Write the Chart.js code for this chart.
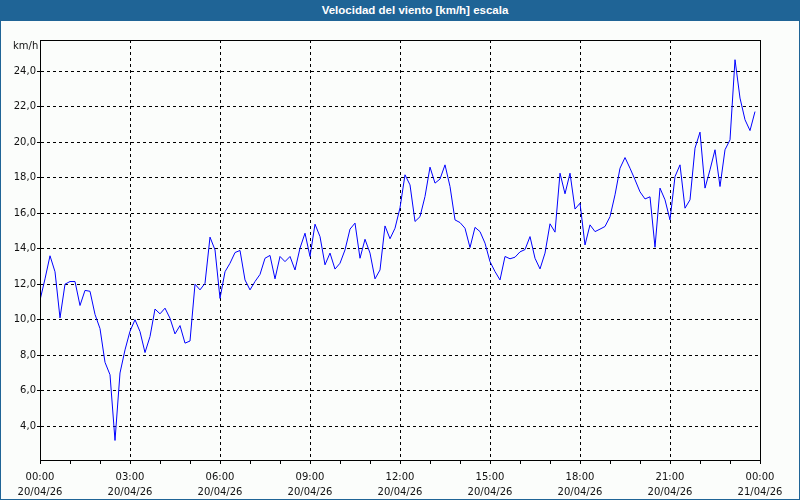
<!DOCTYPE html>
<html>
<head>
<meta charset="utf-8">
<script src="https://cdn.jsdelivr.net/npm/chart.js@4.4.1/dist/chart.umd.min.js"></script>
<style>
  html, body { margin: 0; padding: 0; background: #fbfdfb; }
  #wrap { width: 800px; height: 500px; box-sizing: border-box; border: 1px solid #1f6496; border-top: none; position: relative; background: #fbfdfb; }
  #title { height: 21px; margin: 0 -1px; background: #1f6496; color: #fff; font: bold 11.5px "Liberation Sans", Arial, sans-serif; line-height: 21px; text-align: center; padding-left: 30px; }
  #box { width: 798px; height: 478px; position: relative; }
</style>
</head>
<body>
<div id="wrap">
  <div id="title">Velocidad del viento [km/h] escala</div>
  <div id="box"><canvas id="chart"></canvas></div>
</div>
<script>
// velocidad del viento cada 10 minutos, 00:00 a 23:50
const speeds = [
  11.1, 12.3, 13.6, 12.7, 10.1, 12.0, 12.15, 12.15, 10.8, 11.65, 11.6, 10.3,
  9.5, 7.6, 6.9, 3.2, 7.0, 8.3, 9.35, 10.0, 9.33, 8.15, 9.05, 10.6,
  10.33, 10.65, 10.08, 9.2, 9.67, 8.68, 8.8, 12.0, 11.68, 12.05, 14.65, 13.93,
  11.2, 12.7, 13.18, 13.78, 13.9, 12.24, 11.68, 12.15, 12.55, 13.46, 13.62, 12.3,
  13.56, 13.27, 13.56, 12.8, 14.03, 14.87, 13.56, 15.38, 14.68, 13.09, 13.75, 12.85,
  13.18, 13.93, 15.1, 15.44, 13.46, 14.53, 13.75, 12.3, 12.8, 15.28, 14.56, 15.15,
  16.3, 18.16, 17.59, 15.53, 15.8, 16.94, 18.59, 17.69, 17.92, 18.72, 17.5, 15.62,
  15.47, 15.15, 14.06, 15.2, 14.96, 14.31, 13.27, 12.71, 12.24, 13.56, 13.43, 13.52,
  13.82, 13.95, 14.68, 13.46, 12.86, 13.75, 15.4, 14.93, 18.25, 17.09, 18.25, 16.23,
  16.56, 14.21, 15.34, 14.96, 15.1, 15.25, 15.8, 17.03, 18.53, 19.13, 18.53, 17.88,
  17.2, 16.8, 16.92, 14.08, 17.41, 16.75, 15.62, 18.06, 18.72, 16.28, 16.75, 19.66,
  20.56, 17.41, 18.44, 19.57, 17.5, 19.57, 20.13, 24.64, 22.48, 21.26, 20.65, 21.72
];
const stepMinutes = 10;
const xTickTimes = ["00:00", "03:00", "06:00", "09:00", "12:00", "15:00", "18:00", "21:00", "00:00"];
const xTickDates = ["20/04/26", "20/04/26", "20/04/26", "20/04/26", "20/04/26", "20/04/26", "20/04/26", "20/04/26", "21/04/26"];
const yUnit = "km/h";

const points = speeds.map((v, i) => ({ x: i * stepMinutes / 60, y: v }));

const tickFont = { family: "'DejaVu Sans', sans-serif", size: 10, lineHeight: 1.5 };
const textColor = "#111";

// marco negro alrededor del area del grafico + unidad
const framePlugin = {
  id: "frame",
  afterDraw(chart) {
    const { ctx, chartArea: a } = chart;
    ctx.save();
    ctx.strokeStyle = "#000";
    ctx.lineWidth = 1;
    ctx.strokeRect(Math.round(a.left) + 0.5, Math.round(a.top) + 0.5, Math.round(a.right - a.left), Math.round(a.bottom - a.top));
    ctx.fillStyle = textColor;
    ctx.font = "10px 'DejaVu Sans', sans-serif";
    ctx.textBaseline = "middle";
    ctx.textAlign = "left";
    ctx.fillText(yUnit, 12, 25);
    ctx.restore();
  }
};

new Chart(document.getElementById("chart"), {
  type: "line",
  data: {
    datasets: [{
      data: points,
      borderColor: "#0000ff",
      borderWidth: 1,
      pointRadius: 0,
      tension: 0,
      fill: false
    }]
  },
  options: {
    responsive: true,
    maintainAspectRatio: false,
    animation: false,
    events: [],
    layout: { padding: { left: 0, right: 39, top: 19, bottom: 0 } },
    plugins: { legend: { display: false }, tooltip: { enabled: false }, title: { display: false } },
    scales: {
      x: {
        type: "linear",
        min: 0,
        max: 24,
        afterFit: (s) => { s.height = 39; },
        ticks: {
          stepSize: 1,
          autoSkip: false,
          maxRotation: 0,
          padding: 6,
          color: textColor,
          font: tickFont,
          callback: (v) => (v % 3 === 0 ? [xTickTimes[v / 3], xTickDates[v / 3]] : "")
        },
        grid: {
          color: (c) => (c.tick && c.tick.value % 3 === 0 && c.tick.value > 0 && c.tick.value < 24 ? "#000" : "rgba(0,0,0,0)"),
          tickColor: "#000",
          tickLength: 4,
          lineWidth: 1
        },
        border: { display: true, color: "#000", width: 1, dash: [3, 3] }
      },
      y: {
        min: 2.1,
        max: 25.75,
        afterFit: (s) => { s.width = 39; },
        afterBuildTicks: (s) => { s.ticks = s.ticks.filter((t) => Math.abs(t.value / 2 - Math.round(t.value / 2)) < 1e-6); },
        ticks: {
          stepSize: 2,
          padding: 1,
          color: textColor,
          font: tickFont,
          callback: (v) => v.toFixed(1).replace(".", ",")
        },
        grid: {
          color: "#000",
          tickColor: "#000",
          tickLength: 3,
          lineWidth: 1
        },
        border: { display: true, color: "#000", width: 1, dash: [3, 3] }
      }
    }
  },
  plugins: [framePlugin]
});
</script>
</body>
</html>
